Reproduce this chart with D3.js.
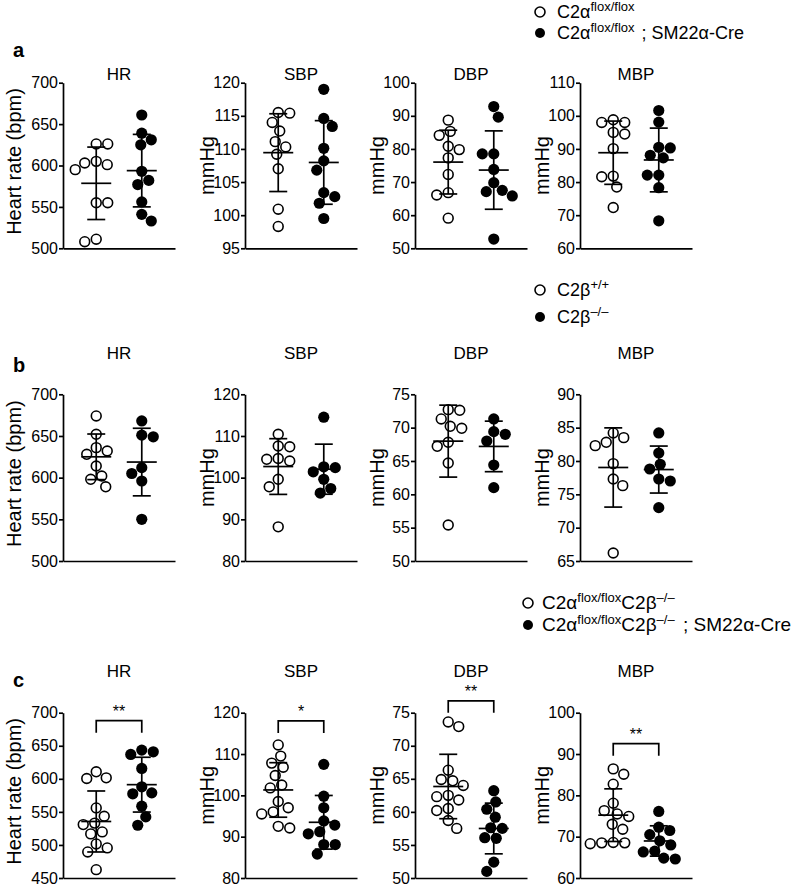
<!DOCTYPE html>
<html><head><meta charset="utf-8">
<script src="https://cdn.jsdelivr.net/npm/d3@7"></script>
<style>
body{margin:0;background:#fff}
text{font-family:"Liberation Sans",Arial,Helvetica,sans-serif;fill:#000}
</style>
</head><body>
<svg id="chart" width="797" height="887"></svg>
<script>
// ---------- DATA ----------
const groups = ["control", "knockout"];
const panelTitles = ["HR", "SBP", "DBP", "MBP"];

// tick labels
const aHR_ticks = [500, 550, 600, 650, 700];
const aSBP_ticks = [95, 100, 105, 110, 115, 120];
const aDBP_ticks = [50, 60, 70, 80, 90, 100];
const aMBP_ticks = [60, 70, 80, 90, 100, 110];
const bHR_ticks = [500, 550, 600, 650, 700];
const bSBP_ticks = [80, 90, 100, 110, 120];
const bDBP_ticks = [50, 55, 60, 65, 70, 75];
const bMBP_ticks = [65, 70, 75, 80, 85, 90];
const cHR_ticks = [450, 500, 550, 600, 650, 700];
const cSBP_ticks = [80, 90, 100, 110, 120];
const cDBP_ticks = [50, 55, 60, 65, 70, 75];
const cMBP_ticks = [60, 70, 80, 90, 100];

// row a : C2a flox/flox vs C2a flox/flox ; SM22a-Cre
const aHR_open = [626, 626, 605, 603, 601, 595, 555, 555, 511, 508];
const aHR_filled = [661, 639, 631, 625, 593, 582, 577, 556, 541, 533];
const aSBP_open = [115.5, 115.4, 114.0, 112.7, 111.1, 110.3, 109.2, 107.0, 100.9, 98.3];
const aSBP_filled = [119.0, 114.6, 113.4, 110.1, 108.2, 106.8, 103.4, 102.8, 101.8, 99.5];
const aDBP_open = [88.7, 85.3, 84.1, 80.8, 79.8, 77.3, 72.3, 66.8, 66.1, 59.1];
const aDBP_filled = [92.8, 89.6, 78.5, 78.5, 73.8, 69.8, 67.5, 67.1, 65.8, 52.8];
const aMBP_open = [98.8, 98.0, 98.0, 95.0, 94.5, 90.1, 81.8, 81.6, 78.5, 72.3];
const aMBP_filled = [101.6, 98.1, 90.5, 90.3, 88.1, 87.3, 82.1, 82.1, 78.3, 68.3];

// row b : C2b +/+ vs C2b -/-
const bHR_open = [674, 652, 636, 632, 628, 614, 602, 598, 589];
const bHR_filled = [668, 651, 649, 612, 605, 596, 550];
const bSBP_open = [110.4, 107.6, 107.4, 104.6, 104.4, 104.0, 99.6, 97.8, 88.2];
const bSBP_filled = [114.5, 102.6, 102.4, 101.4, 99.6, 97.4, 96.3];
const bDBP_open = [72.7, 72.6, 71.3, 70.2, 69.9, 67.8, 67.2, 64.7, 55.4];
const bDBP_filled = [71.3, 69.4, 69.0, 68.0, 64.4, 61.0];
const bMBP_open = [84.2, 83.5, 82.8, 82.3, 79.6, 77.3, 76.3, 66.2];
const bMBP_filled = [84.2, 81.2, 79.5, 78.8, 77.3, 77.0, 73.0];

// row c : C2a flox/flox C2b -/- vs ... ; SM22a-Cre
const cHR_open = [610.6, 601.5, 600.5, 556, 543.4, 533, 530.8, 519.7, 516.7, 501.5, 495.5, 489.4, 462.6];
const cHR_filled = [643.4, 640.9, 636.9, 615.7, 587.9, 578.8, 577.3, 558.6, 542.4, 529.8];
const cSBP_open = [112.2, 109.5, 107.8, 106.8, 104.8, 102.5, 101.8, 98.5, 97, 96, 95.5, 92.5, 92.1];
const cSBP_filled = [107.5, 99.8, 97, 93.8, 92.8, 91.2, 90.7, 88.1, 88.1, 85.8];
const cDBP_open = [73.6, 72.9, 66.3, 64.9, 64.7, 64.0, 62.5, 62.3, 61.8, 60.5, 60.2, 58.7, 57.5];
const cDBP_filled = [63.2, 61.5, 60.4, 59.2, 57.6, 57.5, 56.1, 56.0, 52.4, 51.0];
const cMBP_open = [86.4, 85.1, 82.7, 78.1, 76.3, 75.5, 74.9, 73.0, 71.8, 68.6, 68.5, 68.5, 68.3];
const cMBP_filled = [76.1, 72.3, 71.5, 70.5, 69.0, 68.0, 66.5, 66.3, 64.8, 64.6];

// significance (row c)
const cSigLabels = ["**", "*", "**", "**"];
const cSigLevels = [688, 118, 76.8, 92.5];

// ---------- LAYOUT ----------
const svg = d3.select("#chart");
const colX = [63, 245, 415, 580];
const plotW = 112;
const rowsGeom = [
  {top: 82.7, bottom: 248.3, title: 80, letter: 57},
  {top: 394.3, bottom: 561, title: 359, letter: 372},
  {top: 712.7, bottom: 878, title: 677, letter: 687}
];
const rows = [
  {letter: "a", ticks: [aHR_ticks, aSBP_ticks, aDBP_ticks, aMBP_ticks],
   open: [aHR_open, aSBP_open, aDBP_open, aMBP_open],
   filled: [aHR_filled, aSBP_filled, aDBP_filled, aMBP_filled]},
  {letter: "b", ticks: [bHR_ticks, bSBP_ticks, bDBP_ticks, bMBP_ticks],
   open: [bHR_open, bSBP_open, bDBP_open, bMBP_open],
   filled: [bHR_filled, bSBP_filled, bDBP_filled, bMBP_filled]},
  {letter: "c", ticks: [cHR_ticks, cSBP_ticks, cDBP_ticks, cMBP_ticks],
   open: [cHR_open, cSBP_open, cDBP_open, cMBP_open],
   filled: [cHR_filled, cSBP_filled, cDBP_filled, cMBP_filled],
   sig: cSigLabels, sigLevels: cSigLevels}
];

const R = 4.9, DIAM = 11.4;

function swarm(vals, y) {
  const pts = vals.map(v => ({v, py: y(v), off: 0})).sort((a, b) => a.py - b.py);
  const placed = [];
  let flip = 1;
  pts.forEach(p => {
    for (let k = 0; k < 400; k++) {
      const off = (k === 0 ? 0 : (k % 2 ? flip : -flip) * Math.ceil(k / 2) * 0.5);
      const hit = placed.some(q => (q.off - off) ** 2 + (q.py - p.py) ** 2 < DIAM * DIAM);
      if (!hit) { p.off = off; break; }
    }
    if (p.off !== 0) flip = -Math.sign(p.off);
    placed.push(p);
  });
  return pts;
}

rows.forEach((row, ri) => {
  const g = rowsGeom[ri];
  svg.append("text").attr("x", 13).attr("y", g.letter)
    .attr("font-size", 20).attr("font-weight", "bold").text(row.letter);

  panelTitles.forEach((title, pi) => {
    const x0 = colX[pi];
    const ticks = row.ticks[pi];
    const y = d3.scaleLinear().domain(d3.extent(ticks)).range([g.bottom, g.top]);
    const x = d3.scalePoint().domain(groups).range([x0, x0 + plotW]).padding(0.73);
    const pg = svg.append("g");

    pg.append("text").attr("x", x0 + plotW / 2).attr("y", g.title)
      .attr("text-anchor", "middle").attr("font-size", 17).text(title);

    const ya = pg.append("g").attr("transform", `translate(${x0},0)`)
      .call(d3.axisLeft(y).tickValues(ticks).tickSize(4).tickPadding(1).tickSizeOuter(0).tickFormat(d3.format("d")));
    ya.selectAll("path,line").attr("stroke", "#000").attr("stroke-width", 1.7);
    ya.selectAll("text").attr("font-size", 16).attr("font-family", "Liberation Sans, Arial, sans-serif").attr("fill", "#000");

    const xa = pg.append("g").attr("transform", `translate(0,${g.bottom})`)
      .call(d3.axisBottom(x).tickSize(0).tickSizeOuter(0).tickFormat(""));
    xa.selectAll("path").attr("stroke", "#000").attr("stroke-width", 1.7);
    xa.selectAll("text").remove();

    const lx = pi === 0 ? x0 - 42 : x0 - 31;
    pg.append("text")
      .attr("transform", `translate(${lx},${(g.top + g.bottom) / 2 - (pi === 0 ? 4 : 0)}) rotate(-90)`)
      .attr("text-anchor", "middle").attr("font-size", 20)
      .text(pi === 0 ? "Heart rate (bpm)" : "mmHg");

    [["control", row.open[pi], false], ["knockout", row.filled[pi], true]].forEach(([grp, vals, filled]) => {
      const cx = x(grp);
      const pts = swarm(vals, y);
      pg.append("g").selectAll("circle").data(pts).join("circle")
        .attr("cx", d => cx + d.off).attr("cy", d => d.py).attr("r", filled ? R + 0.7 : R)
        .attr("fill", filled ? "#000" : "#fff")
        .attr("stroke", "#000").attr("stroke-width", filled ? 0 : 1.6);
    });

    [["control", row.open[pi]], ["knockout", row.filled[pi]]].forEach(([grp, vals]) => {
      const cx = x(grp);
      const m = d3.mean(vals), sd = d3.deviation(vals);
      const eg = pg.append("g").attr("stroke", "#000").attr("stroke-width", 1.7);
      eg.append("line").attr("x1", cx).attr("x2", cx).attr("y1", y(m + sd)).attr("y2", y(m - sd));
      eg.append("line").attr("x1", cx - 15).attr("x2", cx + 15).attr("y1", y(m)).attr("y2", y(m));
      eg.append("line").attr("x1", cx - 9).attr("x2", cx + 9).attr("y1", y(m + sd)).attr("y2", y(m + sd));
      eg.append("line").attr("x1", cx - 9).attr("x2", cx + 9).attr("y1", y(m - sd)).attr("y2", y(m - sd));
    });

    if (row.sig) {
      const yy = y(row.sigLevels[pi]);
      const xa1 = x("control"), xa2 = x("knockout");
      pg.append("path").attr("d", `M${xa1},${yy + 12}V${yy}H${xa2}V${yy + 12}`)
        .attr("fill", "none").attr("stroke", "#000").attr("stroke-width", 1.7);
      pg.append("text").attr("x", (xa1 + xa2) / 2).attr("y", yy - 4)
        .attr("text-anchor", "middle").attr("font-size", 16).text(row.sig[pi]);
    }
  });
});

// ---------- LEGENDS ----------
function legendRow(cx, cy, tx, filled, parts, fs, gap) {
  svg.append("circle").attr("cx", cx).attr("cy", cy).attr("r", 5)
    .attr("fill", filled ? "#000" : "#fff").attr("stroke", "#000").attr("stroke-width", filled ? 0 : 1.6);
  const t = svg.append("text").attr("x", tx).attr("y", cy + 6).attr("font-size", fs);
  let raised = false;
  parts.forEach(([s, sup]) => {
    const sp = t.append("tspan").text(s);
    if (sup) {
      sp.attr("font-size", 13);
      if (!raised) sp.attr("dy", -7);
      raised = true;
    } else {
      if (raised) sp.attr("dy", 7);
      raised = false;
      if (s.startsWith(" ;")) sp.attr("dx", gap || 0);
    }
  });
}
legendRow(540, 12, 557, false, [["C2α"], ["flox/flox", true]], 18);
legendRow(540, 33, 557, true, [["C2α"], ["flox/flox", true], [" ; SM22α-Cre"]], 18, 2);
legendRow(540, 290, 557, false, [["C2β"], ["+/+", true]], 18);
legendRow(540, 317, 557, true, [["C2β"], ["–/–", true]], 18);
legendRow(528, 603, 542, false, [["C2α"], ["flox/flox", true], ["C2β"], ["–/–", true]], 19);
legendRow(528, 625, 542, true, [["C2α"], ["flox/flox", true], ["C2β"], ["–/–", true], [" ; SM22α-Cre"]], 19, 3);
</script>
</body></html>
